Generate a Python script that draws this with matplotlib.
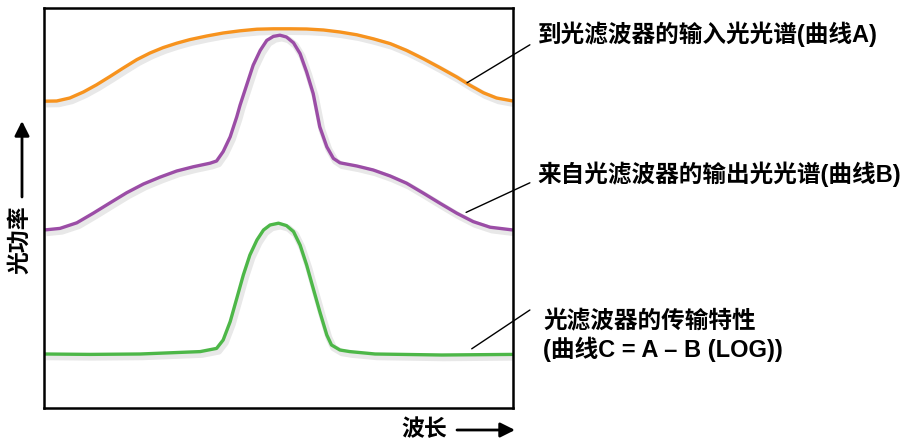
import matplotlib
matplotlib.use("Agg")
import matplotlib.pyplot as plt
import matplotlib.patheffects as pe

# Latin glyphs from Liberation Sans (Helvetica-like), Chinese from Noto Sans CJK
plt.rcParams['font.family'] = ['Liberation Sans', 'Noto Sans CJK SC', 'DejaVu Sans']

# wavelength (0-100, arbitrary) and optical power (0-100, arbitrary)
wl_a = [0, 2.7, 5.5, 8.4, 11.2, 14.1, 16.9, 19.8, 22.6, 25.4, 28.3, 31.1, 34.7, 38.2,
        41.8, 45.4, 48.9, 52.5, 56.0, 59.6, 63.1, 66.7, 70.2, 73.8, 77.3, 80.9, 84.4,
        88.0, 90.8, 93.7, 96.5, 100]
pw_a = [76.7, 76.75, 77.5, 79.0, 80.8, 82.9, 85.0, 87.1, 88.75, 90.1, 91.2, 92.1, 93.0,
        93.75, 94.3, 94.7, 94.8, 94.8, 94.75, 94.5, 94.0, 93.3, 92.3, 91.1, 89.4, 87.3,
        85.1, 82.75, 80.7, 78.8, 77.5, 76.75]

wl_b = [0, 3.4, 7.0, 10.5, 14.1, 17.6, 21.2, 24.7, 28.3, 31.8, 35.4, 36.8, 38.2, 39.7,
        41.1, 41.8, 43.2, 44.6, 46.1, 47.5, 48.9, 50.3, 51.7, 53.2, 54.6, 56.0, 57.4,
        58.8, 60.3, 61.7, 63.1, 66.7, 70.2, 73.8, 77.3, 80.9, 84.4, 88.0, 91.5, 95.1, 100]
pw_b = [44.5, 44.9, 46.3, 48.7, 51.3, 53.8, 56.0, 57.7, 59.25, 60.3, 61.2, 61.75, 64.1,
        67.8, 72.8, 75.7, 80.7, 85.7, 89.4, 91.9, 92.9, 93.2, 92.75, 91.3, 88.6, 84.0,
        78.6, 70.3, 65.3, 62.4, 61.3, 60.5, 59.5, 58.0, 56.2, 53.7, 51.2, 48.7, 46.6,
        45.2, 44.5]

wl_c = [0, 9.8, 20.5, 33.3, 36.8, 38.2, 39.7, 41.1, 42.5, 43.9, 45.4, 46.8, 48.2, 50.0,
        51.7, 53.2, 54.6, 56.0, 57.4, 58.8, 60.3, 61.3, 63.1, 65.2, 70.6, 84.8, 100]
pw_c = [13.5, 13.4, 13.5, 14.1, 14.9, 17.0, 21.6, 27.4, 33.25, 38.25, 42.0, 44.5, 45.75,
        46.2, 45.6, 44.1, 40.75, 35.75, 29.9, 24.1, 18.25, 15.75, 14.5, 14.1, 13.5,
        13.25, 13.4]

labels = ["到光滤波器的输入光光谱(曲线A)",
          "来自光滤波器的输出光光谱(曲线B)",
          "光滤波器的传输特性\n(曲线C = A – B (LOG))"]
# where each leader line touches its curve
label_anchor = [(90.2, 81.3), (90.0, 48.9), (91.2, 14.8)]

colors = ["#F7931E", "#9B4DA6", "#4DB748"]

fig = plt.figure(figsize=(9.08, 4.43), dpi=100)
ax = fig.add_axes([44 / 908, 35 / 443, 469 / 908, 400 / 443])

shadow = [pe.SimpleLineShadow(offset=(1.5, -2), shadow_color="gray", alpha=0.18, linewidth=5),
          pe.Normal()]
for wl, pw, c in zip([wl_a, wl_b, wl_c], [pw_a, pw_b, pw_c], colors):
    ax.plot(wl, pw, color=c, lw=2.4, solid_joinstyle="round", solid_capstyle="butt",
            path_effects=shadow)

ax.set_xlim(0, 100)
ax.set_ylim(0, 100)
ax.set_xticks([])
ax.set_yticks([])
for s in ax.spines.values():
    s.set_linewidth(1.8)
    s.set_color("black")

# leader lines + labels
ends = [(103.6, 90.8), (103.6, 56.3), (103.6, 24.5)]
text_pos = [(105.3, 93.5), (105.3, 58.5), (106.4, 18.0)]
for lab, a, e, t in zip(labels, label_anchor, ends, text_pos):
    ax.annotate("", xy=a, xytext=e, annotation_clip=False,
                arrowprops=dict(arrowstyle="-", lw=1.0, color="black",
                                shrinkA=0, shrinkB=0))
    ax.text(t[0], t[1], lab, fontsize=17, fontweight="bold", ha="left", va="center",
            linespacing=1.2, clip_on=False)

# axis labels with arrows
fig.text(20 / 908, 1 - 240 / 443, "光功率", rotation=90, fontsize=16.5, fontweight="bold",
         ha="center", va="center")
ax.annotate("", xy=(22, 443 - 121), xytext=(22, 443 - 197), xycoords="figure pixels",
            textcoords="figure pixels",
            arrowprops=dict(arrowstyle="-|>", lw=2, color="black", mutation_scale=22,
                            shrinkA=0, shrinkB=0))
fig.text(424 / 908, 1 - 430 / 443, "波长", fontsize=16.5, fontweight="bold",
         ha="center", va="center")
ax.annotate("", xy=(515, 443 - 430), xytext=(457, 443 - 430), xycoords="figure pixels",
            textcoords="figure pixels",
            arrowprops=dict(arrowstyle="-|>", lw=2, color="black", mutation_scale=22,
                            shrinkA=0, shrinkB=0))

fig.savefig("out.png", dpi=100)
